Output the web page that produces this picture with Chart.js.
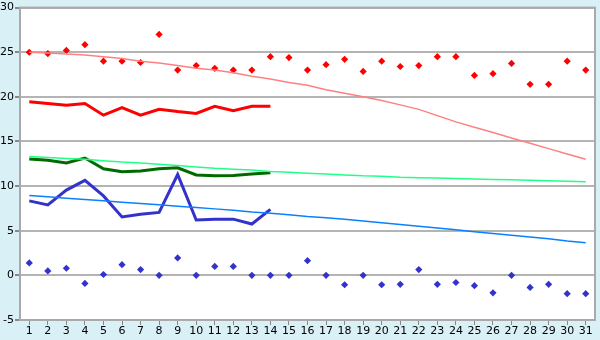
<!DOCTYPE html>
<html>
<head>
<meta charset="utf-8">
<script src="https://cdn.jsdelivr.net/npm/chart.js@4"></script>
<style>
  html, body { margin: 0; padding: 0; background: #d9f0f7; }
  #wrap { width: 600px; height: 340px; }
</style>
</head>
<body>
<div id="wrap"><canvas id="chart" width="600" height="340"></canvas></div>
<script>
// дни месяца
const days = [1,2,3,4,5,6,7,8,9,10,11,12,13,14,15,16,17,18,19,20,21,22,23,24,25,26,27,28,29,30,31];

// максимумы (красные точки) и их тренд
const maxPoints = [25.0,24.85,25.2,25.85,24.0,24.0,23.85,27.0,23.0,23.5,23.2,23.0,23.0,24.5,24.4,23.0,23.6,24.2,22.85,24.0,23.4,23.5,24.5,24.5,22.4,22.6,23.75,21.4,21.4,24.0,23.0];
const maxTrend = [25.0,24.9,24.8,24.7,24.5,24.3,24.0,23.8,23.5,23.2,23.0,22.7,22.3,22.0,21.6,21.3,20.8,20.4,20.0,19.6,19.1,18.6,17.9,17.2,16.6,16.0,15.4,14.8,14.2,13.6,13.0];
const maxLine = [19.45,19.25,19.05,19.25,17.95,18.8,17.95,18.6,18.35,18.15,18.95,18.45,18.95,18.95];

// средние (зелёные)
const avgLine = [13.05,12.9,12.6,13.15,11.95,11.6,11.7,11.95,12.05,11.25,11.15,11.2,11.35,11.5];
const avgTrend = [13.33,13.2,13.1,13.0,12.85,12.7,12.6,12.45,12.3,12.15,12.0,11.9,11.8,11.65,11.55,11.45,11.35,11.25,11.15,11.1,11.0,10.95,10.9,10.85,10.8,10.75,10.7,10.65,10.6,10.55,10.5];

// минимумы (синие)
const minLine = [8.35,7.9,9.55,10.65,8.9,6.55,6.85,7.05,11.3,6.2,6.3,6.3,5.75,7.4];
const minTrend = [8.95,8.8,8.65,8.5,8.35,8.2,8.05,7.9,7.75,7.6,7.45,7.3,7.1,6.95,6.8,6.6,6.45,6.3,6.1,5.9,5.7,5.5,5.3,5.1,4.9,4.7,4.5,4.3,4.1,3.85,3.65];
const minPoints = [1.4,0.5,0.8,-0.9,0.1,1.2,0.65,0.0,1.95,0.0,1.0,1.0,0.0,0.0,0.0,1.65,0.0,-1.05,0.0,-1.05,-1.0,0.65,-1.0,-0.8,-1.15,-1.95,0.0,-1.35,-1.0,-2.05,-2.05];

const yTicks = [-5,0,5,10,15,20,25,30];

function lineSet(data, color, width) {
    return { type: 'line', data: data, borderColor: color, borderWidth: width,
             pointRadius: 0, tension: 0, fill: false };
}

function pointSet(data, color) {
    return { type: 'line', data: data, showLine: false, pointStyle: 'rectRot',
             pointRadius: 3.6, pointBorderWidth: 0, backgroundColor: color, borderColor: color };
}

// рамка вокруг области графика
const frame = {
    id: 'frame',
    beforeDraw(chart) {
        const a = chart.chartArea, c = chart.ctx;
        c.save();
        c.fillStyle = '#ffffff';
        c.fillRect(a.left, a.top, a.right - a.left, a.bottom - a.top);
        c.restore();
    },
    afterDraw(chart) {
        const a = chart.chartArea, c = chart.ctx;
        c.save();
        c.strokeStyle = '#aaaaaa';
        c.lineWidth = 2;
        c.strokeRect(a.left, a.top, a.right - a.left, a.bottom - a.top);
        c.restore();
    }
};

new Chart(document.getElementById('chart'), {
    data: {
        labels: days.map(String),
        datasets: [
            lineSet(maxTrend, '#ff8080', 1.5),
            lineSet(avgTrend, '#22ff88', 1.5),
            lineSet(minTrend, '#0a80ff', 1.5),
            lineSet(maxLine, '#ff0000', 3),
            lineSet(avgLine, '#006a00', 3),
            lineSet(minLine, '#3333cc', 3),
            pointSet(maxPoints, '#ff0000'),
            pointSet(minPoints, '#3333cc')
        ]
    },
    options: {
        responsive: false,
        animation: false,
        layout: { padding: { top: 5, right: 5 } },
        plugins: { legend: { display: false }, tooltip: { enabled: false } },
        scales: {
            x: {
                offset: true,
                grid: { offset: false, drawOnChartArea: false, tickLength: 5, tickColor: '#888888' },
                border: { color: '#aaaaaa', width: 2 },
                ticks: { color: '#000', padding: 0, maxRotation: 0, autoSkip: false,
                         font: { family: 'DejaVu Sans', size: 11 } },
                afterFit(s) { s.height = 20; }
            },
            y: {
                min: -5, max: 30,
                afterBuildTicks(s) { s.ticks = yTicks.map(v => ({ value: v })); },
                grid: { color: '#b4b4b4', lineWidth: 2, tickLength: 5, tickColor: '#888888' },
                border: { color: '#aaaaaa', width: 2 },
                ticks: { color: '#000', padding: 1, font: { family: 'DejaVu Sans', size: 11 } },
                afterFit(s) { s.width = 20; }
            }
        }
    },
    plugins: [frame]
});
</script>
</body>
</html>
